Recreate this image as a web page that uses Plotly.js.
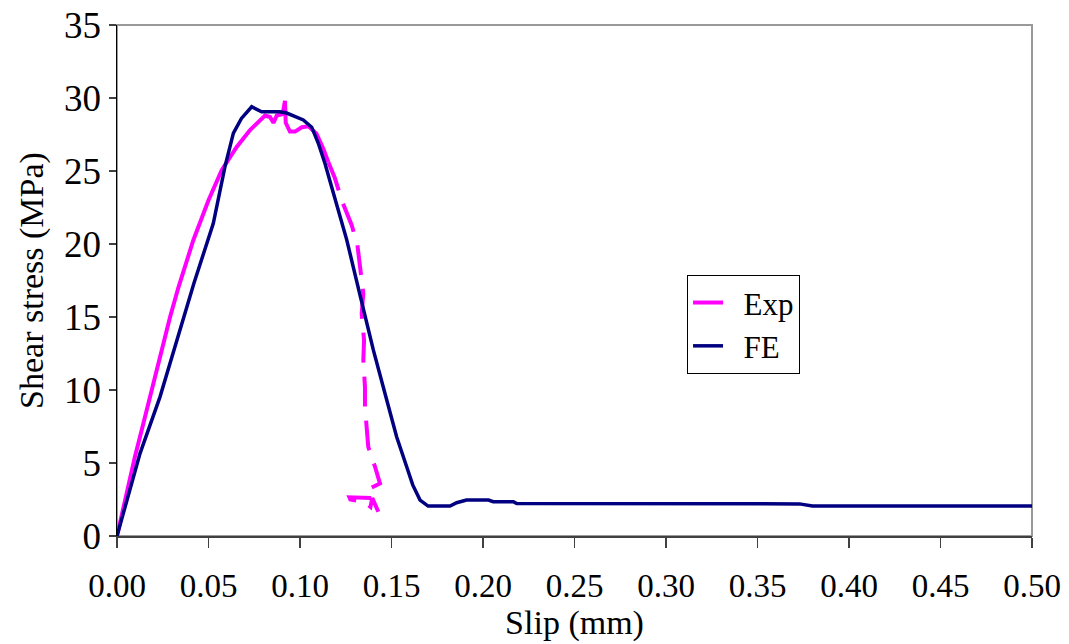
<!DOCTYPE html>
<html>
<head>
<meta charset="utf-8">
<script src="https://cdn.plot.ly/plotly-3.0.1.min.js"></script>
<style>html,body{margin:0;padding:0;background:#fff;}#chart{width:1069px;height:644px;}</style>
</head>
<body>
<div id="chart"></div>
<script>
// FE (finite element) curve
var feSlip = [0, 0.0126, 0.0235, 0.0326, 0.042, 0.0526, 0.059, 0.0636, 0.068, 0.0736, 0.079, 0.089, 0.0927, 0.1018, 0.1064, 0.110, 0.1137, 0.1173, 0.1219, 0.1255, 0.1328, 0.1401, 0.1474, 0.1528, 0.1583, 0.1616, 0.1656, 0.170, 0.182, 0.1856, 0.191, 0.203, 0.2056, 0.2166, 0.2184, 0.373, 0.38, 0.5];
var feStress = [0, 5.66, 9.53, 13.4, 17.3, 21.4, 25.3, 27.6, 28.6, 29.4, 29.05, 29.05, 28.97, 28.5, 28.0, 26.9, 25.5, 23.9, 21.8, 20.3, 16.5, 12.73, 9.31, 6.8, 4.74, 3.5, 2.46, 2.05, 2.05, 2.28, 2.46, 2.46, 2.35, 2.35, 2.22, 2.2, 2.05, 2.05];

// Experimental curve, pre-peak part (continuous)
var expSlipA = [0, 0.0035, 0.0053, 0.0098, 0.0144, 0.019, 0.0235, 0.029, 0.0335, 0.0417, 0.05, 0.0572, 0.0654, 0.0727, 0.0809, 0.0836, 0.0855, 0.0873, 0.0905, 0.0918, 0.0922, 0.0945, 0.0973, 0.101, 0.1046, 0.109, 0.1128, 0.1155];
var expStressA = [0, 2.0, 3.15, 5.43, 7.71, 10.0, 12.5, 15.0, 17.0, 20.26, 23.0, 25.05, 26.65, 27.8, 28.8, 28.7, 28.3, 28.8, 28.9, 29.8, 28.3, 27.7, 27.7, 28.0, 28.06, 27.56, 26.5, 25.6];

// Experimental curve, post-peak part (dashed)
var expSlipB = [0.1155, 0.1191, 0.1228, 0.1264, 0.1282, 0.1313, 0.1328, 0.1346, 0.1337, 0.135, 0.1346, 0.1355, 0.1355, 0.1364, 0.1373, 0.141, 0.1437, 0.1383, 0.1368, 0.139, 0.127, 0.1275, 0.135, 0.1385, 0.1395, 0.1428];
var expStressB = [25.6, 24.5, 23.0, 21.85, 21.3, 20.0, 18.4, 16.6, 15.24, 13.4, 12.05, 10.2, 8.85, 7.03, 6.1, 4.74, 3.6, 3.26, 2.9, 2.6, 2.65, 2.5, 2.35, 2.0, 2.6, 1.66];

var xTickVals = [0, 0.05, 0.10, 0.15, 0.20, 0.25, 0.30, 0.35, 0.40, 0.45, 0.50];
var xTickText = ["0.00", "0.05", "0.10", "0.15", "0.20", "0.25", "0.30", "0.35", "0.40", "0.45", "0.50"];
var yTickVals = [0, 5, 10, 15, 20, 25, 30, 35];
var seriesNames = ["\u00a0\u00a0Exp", "\u00a0\u00a0FE"];

var FONT = 'Liberation Serif';

var traces = [
  {x: expSlipA, y: expStressA, name: seriesNames[0], mode: 'lines',
   line: {color: '#FF00FF', width: 4}},
  {x: expSlipB, y: expStressB, name: seriesNames[0], mode: 'lines', showlegend: false,
   line: {color: '#FF00FF', width: 4, dash: '30px,14px'}},
  {x: feSlip, y: feStress, name: seriesNames[1], mode: 'lines',
   line: {color: '#000080', width: 3.5}}
];

var layout = {
  width: 1069, height: 644,
  margin: {l: 117, r: 37, t: 25, b: 108},
  paper_bgcolor: '#fff', plot_bgcolor: '#fff',
  font: {family: FONT, size: 34, color: '#000'},
  showlegend: true,
  legend: {x: 0.623, y: 0.511, xanchor: 'left', yanchor: 'top',
    bgcolor: '#fff', bordercolor: '#000', borderwidth: 1, tracegroupgap: 0,
    font: {family: FONT, size: 31, color: '#000'}},
  xaxis: {
    range: [0, 0.5], tickmode: 'array', tickvals: xTickVals, ticktext: xTickText,
    showgrid: false, zeroline: false, showline: true, linecolor: '#404040', linewidth: 2,
    ticks: 'outside', ticklen: 10, tickcolor: '#404040', tickwidth: 1.5,
    ticklabelstandoff: 9,
    tickfont: {family: FONT, size: 33},
    title: {text: 'Slip (mm)', font: {family: FONT, size: 34}, standoff: 3}
  },
  yaxis: {
    range: [0, 35], tickmode: 'array', tickvals: yTickVals,
    showgrid: false, zeroline: false, showline: true, linecolor: '#000', linewidth: 1.5,
    ticks: 'outside', ticklen: 7, tickcolor: '#404040', tickwidth: 1.5,
    tickfont: {family: FONT, size: 37},
    title: {text: 'Shear stress (MPa)', font: {family: FONT, size: 34}, standoff: 10}
  },
  shapes: [{type: 'rect', xref: 'paper', yref: 'paper', x0: 0, x1: 1, y0: 0, y1: 1,
    line: {color: '#999', width: 2}, layer: 'below'}]
};

Plotly.newPlot('chart', traces, layout, {displayModeBar: false, staticPlot: true});
</script>
</body>
</html>
